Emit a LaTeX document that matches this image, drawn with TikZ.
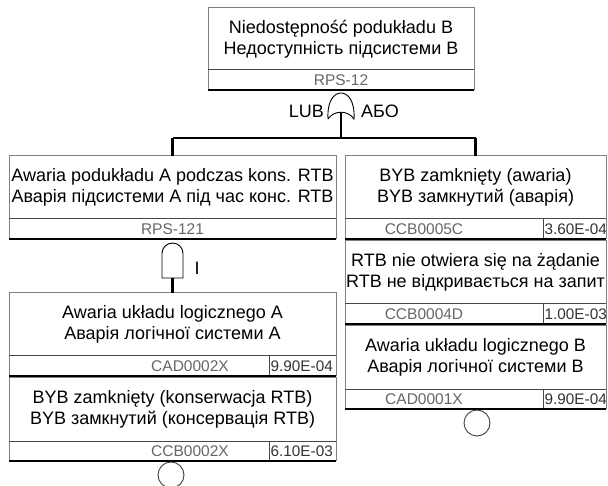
\documentclass[tikz,border=0pt]{standalone}
\usepackage{fontspec}
\setmainfont{Liberation Sans}
\begin{document}
\begin{tikzpicture}[x=1pt,y=-1pt,
  region/.style={inner sep=0pt, outer sep=0pt, draw=none, rectangle},
  desc/.style={region, align=center, font=\fontsize{18}{21.5}\selectfont, text=black},
  idtxt/.style={inner sep=0pt, font=\fontsize{15.5}{17}\selectfont, text=black!60},
  valtxt/.style={inner sep=0pt, anchor=west, font=\fontsize{15.3}{17}\selectfont, text=black!80},
  frame/.style={draw=black!50, line width=1pt},
  sepl/.style={draw=black!72, line width=1pt},
  botl/.style={draw=black, line width=1.6pt},
  conn/.style={draw=black, line width=2.6pt},
  bus/.style={draw=black, line width=2pt},
  gatel/.style={draw=black, line width=0.9pt, fill=white},
  txt/.style={inner sep=0pt, font=\fontsize{18}{20}\selectfont},
  circ/.style={circle, draw=black!75, line width=0.9pt, minimum size=26pt, inner sep=0pt},
]
\useasboundingbox (0,0) rectangle (608,486);
\fill[white] (0,0) rectangle (608,486);

% ---------- top event
\node[desc, minimum width=266pt, minimum height=62pt] (top) at (341,39)
  {Niedostępność podukładu B\\Недоступність підсистеми B};
\node[region, minimum width=266pt, minimum height=20pt] (topid) at (341,80) {};
\node[idtxt] (topidt) at (341,80) {RPS-12};
\draw[frame] (topid.south west) -- (top.north west) -- (top.north east) -- (topid.south east);
\draw[sepl] (top.south west) -- (top.south east);
\draw[botl] (topid.south west) -- (topid.south east);

% ---------- OR gate
\draw[gatel] (328,119) .. controls (327,101) and (334,93) .. (341,93)
  .. controls (348,93) and (355,101) .. (354,119)
  .. controls (348,110) and (334,110) .. (328,119);
\coordinate (orout) at (341,113);
\node[txt, anchor=east] (lub) at (324,111) {LUB};
\node[txt, anchor=west] (abo) at (361,111) {АБО};

% ---------- left gate event
\node[desc, minimum width=327pt, minimum height=63pt] (l1) at (172.5,187.5)
  {Awaria podukładu A podczas kons. RTB\\Аварія підсистеми A під час конс. RTB};
\node[region, minimum width=327pt, minimum height=20pt] (l1id) at (172.5,229) {};
\node[idtxt] (l1idt) at (172.5,229) {RPS-121};
\draw[frame] (l1id.south west) -- (l1.north west) -- (l1.north east) -- (l1id.south east);
\draw[sepl] (l1.south west) -- (l1.south east);
\draw[botl] (l1id.south west) -- (l1id.south east);

% ---------- AND gate
\draw[gatel] (162,278) -- (162,253.5) .. controls (162,247.7) and (166.7,243) .. (172.5,243)
  .. controls (178.3,243) and (183,247.7) .. (183,253.5) -- (183,278) -- cycle;
\coordinate (andout) at (172.5,278);
\node[txt] (ilab) at (197,268) {I};

% ---------- left basic events
\node[desc, minimum width=327pt, minimum height=63pt] (l2) at (172.5,324.5)
  {Awaria układu logicznego A\\Аварія логічної системи А};
\node[region, minimum width=260pt, minimum height=20pt] (l2id) at (139,366) {};
\node[region, minimum width=67pt, minimum height=20pt] (l2v) at (302.5,366) {};
\node[idtxt] (l2idt) at (190,366) {CAD0002X};
\node[valtxt] (l2vt) at (270.5,366) {9.90E-04};
\draw[frame] (l2id.south west) -- (l2.north west) -- (l2.north east) -- (l2v.south east);
\draw[sepl] (l2.south west) -- (l2.south east);
\draw[sepl] (l2v.north west) -- (l2v.south west);
\draw[botl] (l2id.south west) -- (l2v.south east);

\node[desc, minimum width=327pt, minimum height=63pt] (l3) at (172.5,409.5)
  {BYB zamknięty (konserwacja RTB)\\BYB замкнутий (консервація RTB)};
\node[region, minimum width=260pt, minimum height=20pt] (l3id) at (139,451) {};
\node[region, minimum width=67pt, minimum height=20pt] (l3v) at (302.5,451) {};
\node[idtxt] (l3idt) at (190,451) {CCB0002X};
\node[valtxt] (l3vt) at (270.5,451) {6.10E-03};
\draw[frame] (l3id.south west) -- (l3.north west) -- (l3.north east) -- (l3v.south east);
\draw[sepl] (l3.south west) -- (l3.south east);
\draw[sepl] (l3v.north west) -- (l3v.south west);
\draw[botl] (l3id.south west) -- (l3v.south east);
\node[circ] (c1) at (171,475) {};

% ---------- right basic events
\node[desc, minimum width=261pt, minimum height=63pt] (r1) at (475.5,187.5)
  {BYB zamknięty (awaria)\\BYB замкнутий (аварія)};
\node[region, minimum width=198pt, minimum height=20pt] (r1id) at (444,229) {};
\node[region, minimum width=63pt, minimum height=20pt] (r1v) at (574.5,229) {};
\node[idtxt] (r1idt) at (424,229) {CCB0005C};
\node[valtxt] (r1vt) at (544.5,229) {3.60E-04};
\draw[frame] (r1id.south west) -- (r1.north west) -- (r1.north east) -- (r1v.south east);
\draw[sepl] (r1.south west) -- (r1.south east);
\draw[sepl] (r1v.north west) -- (r1v.south west);
\draw[botl] (r1id.south west) -- (r1v.south east);

\node[desc, minimum width=261pt, minimum height=63pt] (r2) at (475.5,272.5)
  {RTB nie otwiera się na żądanie\\RTB не відкривається на запит};
\node[region, minimum width=198pt, minimum height=20pt] (r2id) at (444,314) {};
\node[region, minimum width=63pt, minimum height=20pt] (r2v) at (574.5,314) {};
\node[idtxt] (r2idt) at (424,314) {CCB0004D};
\node[valtxt] (r2vt) at (544.5,314) {1.00E-03};
\draw[frame] (r2id.south west) -- (r2.north west) -- (r2.north east) -- (r2v.south east);
\draw[sepl] (r2.south west) -- (r2.south east);
\draw[sepl] (r2v.north west) -- (r2v.south west);
\draw[botl] (r2id.south west) -- (r2v.south east);

\node[desc, minimum width=261pt, minimum height=63pt] (r3) at (475.5,357.5)
  {Awaria układu logicznego B\\Аварія логічної системи B};
\node[region, minimum width=198pt, minimum height=20pt] (r3id) at (444,399) {};
\node[region, minimum width=63pt, minimum height=20pt] (r3v) at (574.5,399) {};
\node[idtxt] (r3idt) at (424,399) {CAD0001X};
\node[valtxt] (r3vt) at (544.5,399) {9.90E-04};
\draw[frame] (r3id.south west) -- (r3.north west) -- (r3.north east) -- (r3v.south east);
\draw[sepl] (r3.south west) -- (r3.south east);
\draw[sepl] (r3v.north west) -- (r3v.south west);
\draw[botl] (r3id.south west) -- (r3v.south east);
\node[circ] (c2) at (477,423) {};

% ---------- connectors
\coordinate (busL) at (172.5,138);
\coordinate (busR) at (475.5,138);
\draw[bus] (busL) -- (busR);
\draw[conn] (orout) -- (orout |- busL);
\draw[conn] (busL) -- (l1.north);
\draw[conn] (busR) -- (r1.north);
\draw[conn] (andout) -- (l2.north);
\end{tikzpicture}
\end{document}
